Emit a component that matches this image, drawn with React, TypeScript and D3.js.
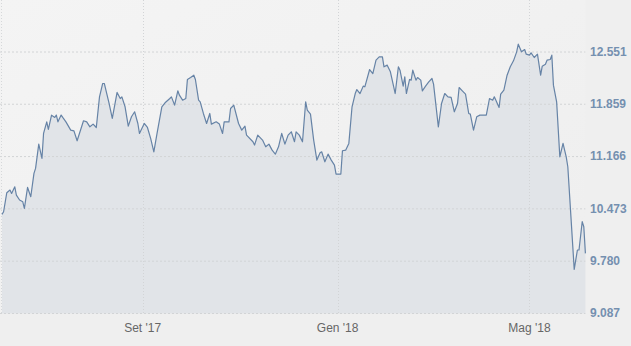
import React from "react";
import * as d3 from "d3";

const dates: string[] = [
  "2017-06-05","2017-06-06","2017-06-08","2017-06-10","2017-06-11","2017-06-13","2017-06-14","2017-06-16","2017-06-18","2017-06-19",
  "2017-06-21","2017-06-23","2017-06-25","2017-06-26","2017-06-28","2017-06-30","2017-07-01","2017-07-03","2017-07-04","2017-07-06",
  "2017-07-08","2017-07-09","2017-07-10","2017-07-12","2017-07-13","2017-07-15","2017-07-18","2017-07-20","2017-07-22","2017-07-26",
  "2017-07-28","2017-07-30","2017-08-01","2017-08-03","2017-08-05","2017-08-07","2017-08-08","2017-08-11","2017-08-13","2017-08-16",
  "2017-08-18","2017-08-19","2017-08-21","2017-08-23","2017-08-25","2017-08-27","2017-08-29","2017-08-30","2017-09-02","2017-09-04",
  "2017-09-06","2017-09-08","2017-09-10","2017-09-13","2017-09-15","2017-09-18","2017-09-19","2017-09-21","2017-09-23","2017-09-24",
  "2017-09-26","2017-09-28","2017-09-29","2017-10-01","2017-10-03","2017-10-04","2017-10-06","2017-10-07","2017-10-09","2017-10-11",
  "2017-10-13","2017-10-14","2017-10-17","2017-10-19","2017-10-21","2017-10-22","2017-10-25","2017-10-26","2017-10-28","2017-10-31",
  "2017-11-02","2017-11-04","2017-11-05","2017-11-09","2017-11-10","2017-11-12","2017-11-15","2017-11-17","2017-11-19","2017-11-21",
  "2017-11-23","2017-11-25","2017-11-27","2017-11-29","2017-12-01","2017-12-03","2017-12-05","2017-12-06","2017-12-08","2017-12-10",
  "2017-12-12","2017-12-13","2017-12-15","2017-12-17","2017-12-19","2017-12-21","2017-12-22","2017-12-24","2017-12-26","2017-12-28",
  "2017-12-30","2017-12-31","2018-01-03","2018-01-04","2018-01-06","2018-01-08","2018-01-10","2018-01-12","2018-01-13","2018-01-15",
  "2018-01-17","2018-01-18","2018-01-21","2018-01-23","2018-01-25","2018-01-27","2018-01-29","2018-01-30","2018-02-01","2018-02-03",
  "2018-02-06","2018-02-08","2018-02-09","2018-02-11","2018-02-12","2018-02-13","2018-02-15","2018-02-16","2018-02-17","2018-02-19",
  "2018-02-20","2018-02-22","2018-02-23","2018-02-25","2018-02-27","2018-03-01","2018-03-02","2018-03-05","2018-03-07","2018-03-09",
  "2018-03-11","2018-03-13","2018-03-15","2018-03-17","2018-03-18","2018-03-20","2018-03-22","2018-03-24","2018-03-25","2018-03-27",
  "2018-03-29","2018-03-31","2018-04-04","2018-04-06","2018-04-08","2018-04-09","2018-04-10","2018-04-12","2018-04-13","2018-04-15",
  "2018-04-17","2018-04-19","2018-04-21","2018-04-23","2018-04-24","2018-04-26","2018-04-28","2018-04-29","2018-05-01","2018-05-02",
  "2018-05-04","2018-05-06","2018-05-08","2018-05-09","2018-05-11","2018-05-12","2018-05-14","2018-05-15","2018-05-16","2018-05-18",
  "2018-05-20","2018-05-22","2018-05-24","2018-05-25","2018-05-29","2018-05-31","2018-06-01","2018-06-03","2018-06-04","2018-06-05"
];

const values: number[] = [
  10.400,10.435,10.687,10.722,10.678,10.766,10.656,10.590,10.567,10.479,
  10.757,10.634,10.943,11.009,11.331,11.141,11.472,11.626,11.525,11.715,
  11.684,11.715,11.626,11.715,11.684,11.626,11.516,11.507,11.375,11.640,
  11.626,11.560,11.596,11.551,11.957,12.134,12.134,11.869,11.671,12.015,
  11.935,11.957,11.825,11.569,11.693,11.759,11.604,11.472,11.604,11.551,
  11.406,11.229,11.472,11.825,11.878,11.935,11.957,11.847,12.037,11.979,
  11.913,11.935,12.187,12.213,12.244,12.187,11.913,11.891,11.737,11.604,
  11.737,11.596,11.626,11.596,11.472,11.626,11.626,11.803,11.847,11.604,
  11.516,11.569,11.450,11.362,11.318,11.450,11.384,11.295,11.331,11.251,
  11.198,11.295,11.472,11.331,11.450,11.494,11.362,11.494,11.450,11.362,
  11.891,11.781,11.728,11.384,11.119,11.216,11.229,11.097,11.198,11.119,
  11.053,10.934,10.934,11.243,11.251,11.340,11.825,12.001,12.054,12.001,
  12.099,12.090,12.319,12.266,12.443,12.487,12.487,12.355,12.377,12.288,
  12.001,12.355,12.310,12.099,12.222,12.001,12.187,12.178,12.310,12.178,
  12.213,12.178,12.037,12.099,12.156,12.200,12.125,11.560,11.869,12.001,
  11.957,11.949,11.759,11.869,12.081,12.037,11.993,11.737,11.728,11.516,
  11.693,11.715,11.715,11.935,11.913,11.957,11.913,11.816,11.993,12.046,
  12.244,12.355,12.434,12.553,12.655,12.553,12.584,12.522,12.509,12.540,
  12.478,12.522,12.244,12.363,12.390,12.443,12.452,12.509,12.112,11.891,
  11.163,11.340,11.163,11.031,9.672,9.928,9.928,10.303,10.236,9.883
];

const yTicks: number[] = [9.087, 9.78, 10.473, 11.166, 11.859, 12.551];
const xTickDates: string[] = ["2017-09-01", "2018-01-01", "2018-05-01"];
const xTickLabels: string[] = ["Set '17", "Gen '18", "Mag '18"];

const W = 631;
const H = 346;
const plotLeft = 2;
const plotRight = 585.4;
const plotTop = 0;
const plotBottom = 313.5;

export default function App() {
  const parse = d3.timeParse("%Y-%m-%d");
  const data = dates.map((d, i) => ({ date: parse(d) as Date, value: values[i] }));

  const x = d3
    .scaleTime()
    .domain([parse("2017-06-05") as Date, parse("2018-06-05") as Date])
    .range([plotLeft, plotRight]);
  const y = d3.scaleLinear().domain([9.087, 12.551]).range([plotBottom, 52]);

  const line = d3
    .line<{ date: Date; value: number }>()
    .x((d) => x(d.date))
    .y((d) => y(d.value));
  const area = d3
    .area<{ date: Date; value: number }>()
    .x((d) => x(d.date))
    .y0(plotBottom)
    .y1((d) => y(d.value));

  const fmt = d3.format(".3f");

  return (
    <svg
      width={W}
      height={H}
      style={{ position: "absolute", left: 0, top: 0, background: "#efefef" }}
      fontFamily="'Liberation Sans', Arial, Helvetica, sans-serif"
    >
      <defs>
        <linearGradient id="bg" x1="0" y1="0" x2="1" y2="1">
          <stop offset="0" stopColor="#f4f4f4" />
          <stop offset="1" stopColor="#eeeeee" />
        </linearGradient>
      </defs>
      <rect x={0} y={0} width={W} height={H} fill="#efefef" />
      <rect x={0} y={plotTop} width={plotRight} height={plotBottom - plotTop} fill="url(#bg)" />
      <path d={area(data) || ""} fill="#e1e4e8" />
      {yTicks.map((t) => (
        <line
          key={"g" + t}
          x1={0}
          x2={plotRight}
          y1={y(t)}
          y2={y(t)}
          stroke="#d2d4d6"
          strokeWidth={1}
          strokeDasharray="2,2"
        />
      ))}
      <line x1={1.5} x2={1.5} y1={plotTop} y2={plotBottom} stroke="#d6d8da" strokeDasharray="1,2" />
      {xTickDates.map((d) => {
        const px = Math.round(x(parse(d) as Date)) + 0.5;
        return (
          <line
            key={"v" + d}
            x1={px}
            x2={px}
            y1={plotTop}
            y2={plotBottom}
            stroke="#d2d4d6"
            strokeDasharray="1,2"
          />
        );
      })}
      <path d={line(data) || ""} fill="none" stroke="#6683a6" strokeWidth={1.2} strokeLinejoin="round" />
      {yTicks.map((t) => (
        <text
          key={"l" + t}
          x={590}
          y={y(t)}
          dy="0.32em"
          fontSize={12}
          fontWeight="bold"
          fill="#7590b0"
        >
          {t === 9.78 ? "9.780" : fmt(t)}
        </text>
      ))}
      {xTickDates.map((d, i) => (
        <text
          key={"x" + d}
          x={x(parse(d) as Date)}
          y={332}
          textAnchor="middle"
          fontSize={12}
          fill="#666666"
        >
          {xTickLabels[i]}
        </text>
      ))}
    </svg>
  );
}
